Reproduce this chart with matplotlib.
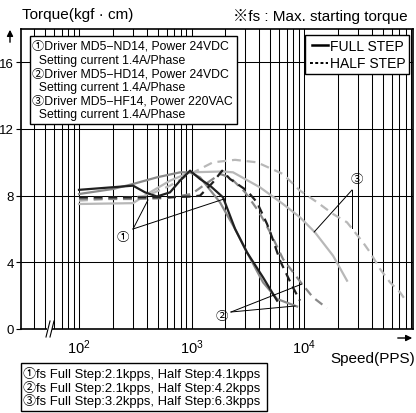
import numpy as np
import matplotlib
matplotlib.use('Agg')
import matplotlib.pyplot as plt
from matplotlib.patches import Rectangle
from matplotlib.lines import Line2D

plt.rcParams['font.family'] = ['Liberation Sans', 'Noto Sans CJK KR', 'DejaVu Sans']
plt.rcParams['mathtext.fontset'] = 'custom'
plt.rcParams['mathtext.rm'] = 'Liberation Sans'

# Speed (pps) / torque (kgf.cm)
d1_full_x = [100, 302, 386, 493, 644, 790, 970, 1190, 1460, 1905, 2440, 3110, 4320, 5760]
d1_full_y = [8.35, 8.6, 8.2, 7.95, 8.2, 8.9, 9.5, 9.0, 8.6, 7.9, 6.0, 4.6, 3.1, 1.7]
d1_half_x = [100, 300, 600, 1000, 1190, 1550, 1870, 2200, 3110, 3820, 4690, 5200, 6120, 7820, 9200]
d1_half_y = [7.9, 7.9, 7.9, 7.95, 8.0, 8.8, 9.5, 9.0, 8.3, 7.6, 6.3, 5.5, 4.1, 2.6, 1.7]

d2_full_x = [100, 200, 302, 493, 790, 970, 1190, 1790, 2440, 3110, 4320, 5760, 8670]
d2_full_y = [8.1, 8.4, 8.7, 9.1, 9.4, 9.4, 9.1, 7.6, 6.0, 4.6, 2.8, 1.8, 1.35]
d2_half_x = [100, 300, 600, 1000, 1400, 1800, 2200, 3000, 4000, 5000, 6500, 9600, 12000, 16000]
d2_half_y = [7.8, 7.8, 7.85, 8.1, 8.8, 9.3, 9.1, 8.2, 7.0, 5.8, 4.2, 2.7, 1.9, 1.25]

d3_full_x = [100, 302, 428, 644, 970, 1905, 2340, 4060, 6500, 9210, 12500, 18100, 24100]
d3_full_y = [7.5, 7.55, 8.2, 8.9, 9.4, 9.45, 9.4, 8.5, 7.5, 6.7, 5.8, 4.4, 2.9]
d3_half_x = [100, 302, 402, 644, 912, 1550, 2440, 3820, 6500, 9210, 13100, 18100, 24100,
             33400, 38600, 47400, 58100, 71300, 82400]
d3_half_y = [7.7, 7.9, 8.0, 8.6, 9.2, 10.0, 10.15, 10.0, 9.3, 8.3, 7.6, 6.9, 6.4,
             5.2, 4.6, 3.6, 2.8, 2.2, 1.6]

driver_lines = ['\u2460Driver MD5\u2212ND14, Power 24VDC', '  Setting current 1.4A/Phase',
                '\u2461Driver MD5\u2212HD14, Power 24VDC', '  Setting current 1.4A/Phase',
                '\u2462Driver MD5\u2212HF14, Power 220VAC', '  Setting current 1.4A/Phase']
fs_lines = ['\u2460fs Full Step:2.1kpps, Half Step:4.1kpps',
            '\u2461fs Full Step:2.1kpps, Half Step:4.2kpps',
            '\u2462fs Full Step:3.2kpps, Half Step:6.3kpps']
y_ticks = [0, 4, 8, 12, 16]
x_ticks = [100, 1000, 10000]

black = '#202020'
mid = '#8a8a8a'
light = '#b8b8b8'

W, H = 416, 414
fig = plt.figure(figsize=(W / 100, H / 100), dpi=100)
ax = fig.add_axes([21 / W, 1 - 330 / H, (413 - 21) / W, (330 - 30) / H])
tr = fig.dpi_scale_trans


def P(px, py):
    # pixel (from top-left) -> inches for dpi_scale_trans
    return px / 100, (H - py) / 100


ax.set_xscale('log')
ax.set_xlim(30.5, 93000)
ax.set_ylim(0, 18)

# grid
minor = [m * 10 ** e for e in range(1, 5) for m in range(2, 10)]
for v in minor + x_ticks:
    ax.axvline(v, color='black', lw=0.75, zorder=1)
for v in y_ticks[1:]:
    ax.axhline(v, color='black', lw=0.75, zorder=1)

dash = (4, 2.6)
ax.plot(d3_full_x, d3_full_y, color=light, lw=1.6, zorder=3)
ax.plot(d3_half_x, d3_half_y, color=light, lw=1.6, dashes=dash, zorder=3)
ax.plot(d2_full_x, d2_full_y, color=mid, lw=1.6, zorder=4)
ax.plot(d2_half_x, d2_half_y, color=mid, lw=1.6, dashes=dash, zorder=4)
ax.plot(d1_full_x, d1_full_y, color=black, lw=1.6, zorder=5)
ax.plot(d1_half_x, d1_half_y, color=black, lw=1.6, dashes=dash, zorder=5)

# leaders for circled labels
lk = dict(color='black', lw=0.7, zorder=6, clip_on=False)
ax.plot([302, 410], [6.0, 7.74], **lk)
ax.plot([302, 1945], [6.0, 7.8], **lk)
ax.text(246, 5.52, '\u2460', fontsize=9, ha='center', va='center', zorder=6)
ax.plot([2244, 9590], [1.02, 2.7], **lk)
ax.plot([2244, 8318], [1.02, 1.38], **lk)
ax.text(1867, 0.78, '\u2461', fontsize=9, ha='center', va='center', zorder=6)
ax.plot([26700, 12300], [8.34, 5.82], **lk)
ax.plot([26700, 26700], [8.34, 6.06], **lk)
ax.text(29600, 9.0, '\u2462', fontsize=9, ha='center', va='center', zorder=6)

for s in ax.spines.values():
    s.set_linewidth(1.2)
    s.set_color('black')
ax.set_yticks(y_ticks)
ax.set_yticklabels([str(v) for v in y_ticks])
ax.tick_params(axis='y', length=3.5, width=0.8, pad=1.5, labelsize=9.5, direction='out')
ax.set_xticks(x_ticks)
ax.set_xticklabels([r'$\mathregular{10^{%d}}$' % int(np.log10(v)) for v in x_ticks])
ax.xaxis.set_minor_locator(matplotlib.ticker.NullLocator())
ax.tick_params(axis='x', length=0, pad=6, labelsize=10.5)

# axis break mark
fig.add_artist(Rectangle(P(47, 338), 5 / 100, 16 / 100, transform=tr, facecolor='white',
                         edgecolor='none', zorder=5))
fig.add_artist(Line2D([46 / 100, 50 / 100], [(H - 338) / 100, (H - 322) / 100], transform=tr,
                      color='black', lw=0.8, zorder=6))
fig.add_artist(Line2D([50 / 100, 54 / 100], [(H - 338) / 100, (H - 322) / 100], transform=tr,
                      color='black', lw=0.8, zorder=6))

# axis arrows
ax.annotate('', xy=P(10, 28), xytext=P(10, 46), xycoords=tr, textcoords=tr,
            arrowprops=dict(arrowstyle='-|>', color='black', lw=1, mutation_scale=9),
            annotation_clip=False)
ax.annotate('', xy=P(415, 339), xytext=P(395, 339), xycoords=tr, textcoords=tr,
            arrowprops=dict(arrowstyle='-|>', color='black', lw=1, mutation_scale=9),
            annotation_clip=False)

fig.text(*P(22, 15), 'Torque(kgf \u00b7 cm)', transform=tr, fontsize=11, va='center', ha='left')
fig.text(*P(233, 17), '\u203bfs : Max. starting torque', transform=tr, fontsize=11,
         va='center', ha='left')
fig.text(*P(415, 359), 'Speed(PPS)', transform=tr, fontsize=11, va='center', ha='right')

# driver box
fig.add_artist(Rectangle(P(30, 125), 207 / 100, 88 / 100, transform=tr, facecolor='white',
                         edgecolor='black', lw=1, zorder=8))
for i, t in enumerate(driver_lines):
    fig.text(*P(32, 47 + i * 13.7), t, transform=tr, fontsize=8.8, va='center', ha='left', zorder=9)

# step legend box
fig.add_artist(Rectangle(P(305, 75), 104 / 100, 39 / 100, transform=tr, facecolor='white',
                         edgecolor='black', lw=1, zorder=8))
fig.add_artist(Line2D([312 / 100, 328 / 100], [(H - 46) / 100] * 2, transform=tr,
                      color='black', lw=1.8, zorder=9))
fig.add_artist(Line2D([310 / 100, 328 / 100], [(H - 64) / 100] * 2, transform=tr,
                      color='black', lw=1.4, dashes=(1.5, 1.2), zorder=9))
fig.text(*P(330, 47), 'FULL STEP', transform=tr, fontsize=10, va='center', ha='left', zorder=9)
fig.text(*P(330, 64), 'HALF STEP', transform=tr, fontsize=10, va='center', ha='left', zorder=9)

# fs box
fig.add_artist(Rectangle(P(21, 412), 246 / 100, 48 / 100, transform=tr, facecolor='white',
                         edgecolor='black', lw=1, zorder=8))
for i, t in enumerate(fs_lines):
    fig.text(*P(23, 374 + i * 13.6), t, transform=tr, fontsize=9.4, va='center', ha='left', zorder=9)

fig.savefig('out.png', dpi=100)
